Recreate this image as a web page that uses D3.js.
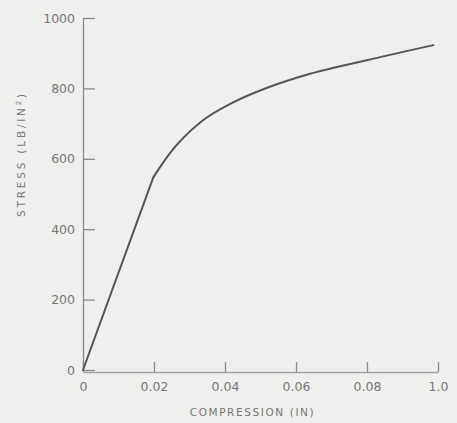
<!DOCTYPE html>
<html>
<head>
<meta charset="utf-8">
<script src="https://cdn.jsdelivr.net/npm/d3@7"></script>
<style>
  body { margin: 0; background: #efefed; }
  svg { display: block; }
  text { font-family: "DejaVu Sans", sans-serif; fill: #777777; }
</style>
</head>
<body>
<div id="plot"></div>
<script>
// Width and height
const w = 457;
const h = 423;
const margin = {top: 18, right: 19, bottom: 53, left: 83};
const innerHeight = h - margin.top - margin.bottom;
const innerWidth = w - margin.left - margin.right;

// data: straight part up to 0.0198, then the bend
const compression = [0, 0.0198, 0.0245, 0.033, 0.0423, 0.0517, 0.0611, 0.0799, 0.0987];
const stress = [0, 547, 616, 703, 760, 801, 833, 880, 923];
const xTicks = [0, 0.02, 0.04, 0.06, 0.08, 0.1];
const xTickLabels = ["0", "0.02", "0.04", "0.06", "0.08", "1.0"];
const yTicks = [0, 200, 400, 600, 800, 1000];

const data = compression.map((c, i) => ({c: c, s: stress[i]}));

const svg = d3.select("div#plot")
  .append("svg")
    .attr("width", w)
    .attr("height", h);

svg.append("rect")
  .attr("width", w)
  .attr("height", h)
  .attr("fill", "#efefed");

const g = svg.append("g")
  .attr("transform", `translate(${margin.left}, ${margin.top})`);

const xScale = d3.scaleLinear()
  .domain([0, 0.1])
  .range([0, innerWidth]);

const yScale = d3.scaleLinear()
  .domain([0, 1000])
  .range([innerHeight, 0]);

// x-axis, ticks pointing up
const xAxis = d3.axisBottom(xScale)
  .tickValues(xTicks)
  .tickFormat((d, i) => xTickLabels[i])
  .tickSizeInner(-10)
  .tickSizeOuter(0)
  .tickPadding(10);

g.append("g")
  .attr("transform", `translate(0, ${innerHeight + 2})`)
  .call(xAxis)
  .call(a => a.select(".domain").attr("stroke", "#a0a0a0").attr("stroke-width", 1.3))
  .call(a => a.selectAll(".tick line").attr("stroke", "#8a8a8a").attr("stroke-width", 1.3))
  .call(a => a.selectAll(".tick text").attr("font-size", 12.5).attr("font-family", "DejaVu Sans").attr("fill", "#777777"));

// y-axis, ticks pointing right
const yAxis = d3.axisLeft(yScale)
  .tickValues(yTicks)
  .tickFormat(d3.format("d"))
  .tickSizeInner(-12)
  .tickSizeOuter(0)
  .tickPadding(8);

g.append("g")
  .call(yAxis)
  .call(a => a.select(".domain").attr("stroke", "#8a8a8a").attr("stroke-width", 1.3))
  .call(a => a.selectAll(".tick line").attr("stroke", "#8a8a8a").attr("stroke-width", 1.3))
  .call(a => a.selectAll(".tick text").attr("font-size", 12.5).attr("font-family", "DejaVu Sans").attr("fill", "#777777"));

// stress-compression curve: straight elastic part, then smooth bend
const straight = d3.line()
  .x(d => xScale(d.c))
  .y(d => yScale(d.s));

const bend = d3.line()
  .x(d => xScale(d.c))
  .y(d => yScale(d.s))
  .curve(d3.curveMonotoneX);

g.append("path")
  .datum(data.slice(0, 2))
  .attr("fill", "none")
  .attr("stroke", "#555555")
  .attr("stroke-width", 2)
  .attr("stroke-linecap", "round")
  .attr("d", straight);

g.append("path")
  .datum(data.slice(1))
  .attr("fill", "none")
  .attr("stroke", "#555555")
  .attr("stroke-width", 2)
  .attr("stroke-linecap", "round")
  .attr("d", bend);

// x-axis label
g.append("text")
  .attr("x", innerWidth / 2 - 8)
  .attr("y", innerHeight + 46)
  .attr("text-anchor", "middle")
  .style("font-size", "10.5px")
  .style("letter-spacing", "1.6px")
  .text("COMPRESSION  (IN)");

// y-axis label
g.append("text")
  .attr("transform", "rotate(-90)")
  .attr("x", -136)
  .attr("y", -58)
  .attr("text-anchor", "middle")
  .style("font-size", "10.5px")
  .style("letter-spacing", "2.8px")
  .html("STRESS  (LB/IN<tspan dy='-4' style='font-size:7px'>2</tspan><tspan dy='4'>)</tspan>");
</script>
</body>
</html>
